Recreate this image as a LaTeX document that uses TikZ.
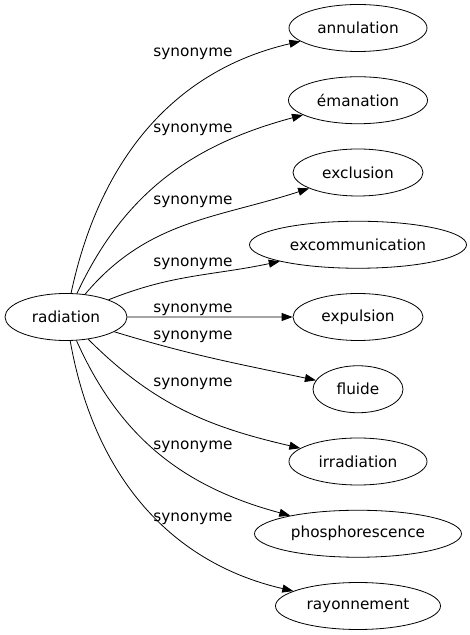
\documentclass[tikz,border=0pt]{standalone}
\usepackage{fontspec}
\setmainfont{DejaVu Sans}
\usetikzlibrary{arrows.meta,positioning,shapes.geometric}
\tikzset{wordnode/.style={draw,ellipse,line width=.8pt,minimum height=47pt,inner sep=0pt,font=\fontsize{15.3}{18}\selectfont},
relword/.style={font=\fontsize{15.3}{18}\selectfont,inner sep=0pt,anchor=base},
synarrow/.style={-{Triangle[length=11pt,width=8pt]},line width=.8pt}}

\begin{document}
\begin{tikzpicture}[x=1pt,y=1pt,node distance=24.45pt]
\useasboundingbox (0,0) rectangle (470,635);
% mot source
\node[wordnode,minimum width=122pt] (radiation) at (66,318) {radiation};
% synonymes, de haut en bas
\node[wordnode,minimum width=138pt] (annulation) at (358,607) {annulation};
\node[wordnode,minimum width=139pt,below=of annulation] (emanation) {émanation};
\node[wordnode,minimum width=130pt,below=of emanation] (exclusion) {exclusion};
\node[wordnode,minimum width=217pt,below=of exclusion] (excommunication) {excommunication};
\node[wordnode,minimum width=130pt,below=of excommunication] (expulsion) {expulsion};
\node[wordnode,minimum width=90pt,below=of expulsion] (fluide) {fluide};
\node[wordnode,minimum width=138pt,below=of fluide] (irradiation) {irradiation};
\node[wordnode,minimum width=207pt,below=of irradiation] (phosphorescence) {phosphorescence};
\node[wordnode,minimum width=165pt,below=of phosphorescence] (rayonnement) {rayonnement};
% etiquettes
\node[relword] (lab1) at (193,578) {synonyme};
\node[relword] (lab2) at (193,502) {synonyme};
\node[relword] (lab3) at (193,430) {synonyme};
\node[relword] (lab4) at (193,368) {synonyme};
\node[relword] (lab5) at (193,322) {synonyme};
\node[relword] (lab6) at (193,295) {synonyme};
\node[relword] (lab7) at (193,248) {synonyme};
\node[relword] (lab8) at (193,185) {synonyme};
\node[relword] (lab9) at (193,113) {synonyme};
% aretes
\draw[synarrow] (radiation) to[out=78,in=193] (annulation);
\draw[synarrow] (radiation) to[out=65,in=195] (emanation);
\draw[synarrow] (radiation) to[out=50,in=198] (exclusion);
\draw[synarrow] (radiation) to[out=22,in=192] (excommunication);
\draw[synarrow] (radiation) -- (expulsion);
\draw[synarrow] (radiation) to[out=-17,in=168] (fluide);
\draw[synarrow] (radiation) to[out=-45,in=167] (irradiation);
\draw[synarrow] (radiation) to[out=-66,in=165] (phosphorescence);
\draw[synarrow] (radiation) to[out=-80,in=167] (rayonnement);
\end{tikzpicture}
\end{document}
